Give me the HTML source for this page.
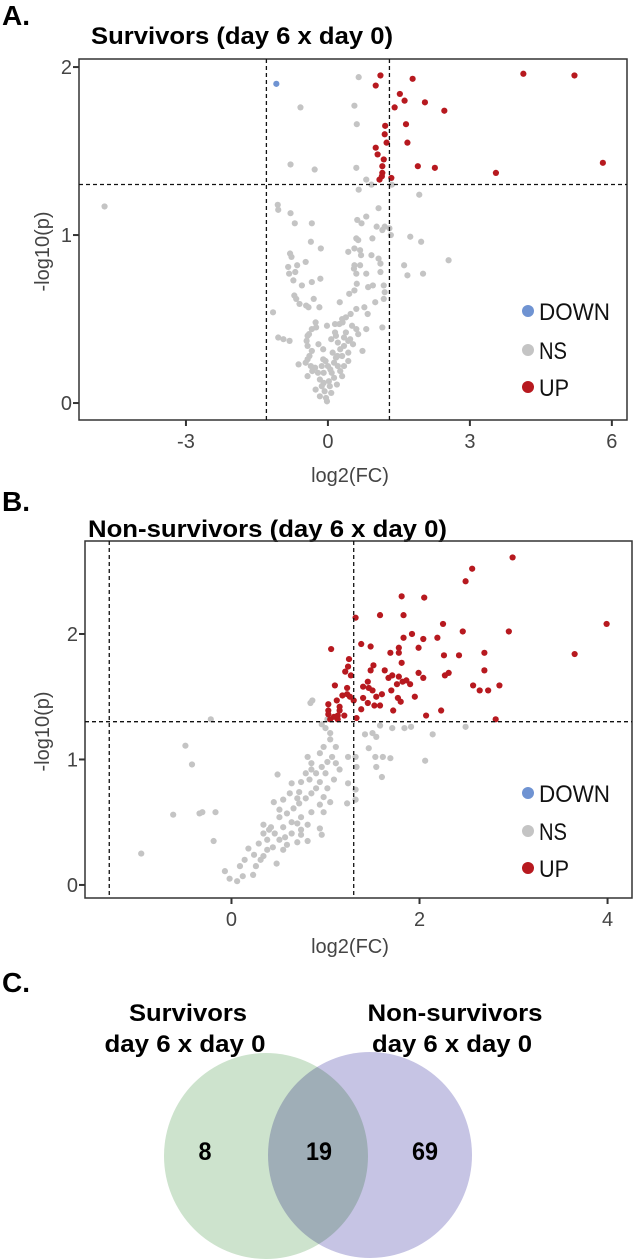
<!DOCTYPE html>
<html><head><meta charset="utf-8">
<style>
html,body{margin:0;padding:0;background:#fff;}
svg{display:block;font-family:"Liberation Sans",Arial,sans-serif;}
</style></head>
<body>
<svg id="fig" width="634" height="1259" viewBox="0 0 634 1259" xmlns="http://www.w3.org/2000/svg">
  <text x="2" y="25" font-size="28" font-weight="bold">A.</text>
  <text x="91" y="44" font-size="24" font-weight="bold" textLength="302" lengthAdjust="spacingAndGlyphs">Survivors (day 6 x day 0)</text>
  <g id="plotA"></g>

  <text x="2" y="511" font-size="28" font-weight="bold">B.</text>
  <text x="88" y="537" font-size="24" font-weight="bold" textLength="359" lengthAdjust="spacingAndGlyphs">Non-survivors (day 6 x day 0)</text>
  <g id="plotB"></g>

  <text x="2" y="992" font-size="28" font-weight="bold">C.</text>
  <g>
    <g style="isolation:isolate">
      <ellipse cx="266" cy="1156" rx="102" ry="103" fill="#cde3cd" style="mix-blend-mode:multiply"/>
      <ellipse cx="370" cy="1155" rx="102" ry="103" fill="#c6c4e4" style="mix-blend-mode:multiply"/>
    </g>
    <text x="188" y="1021" font-size="24" font-weight="bold" text-anchor="middle" textLength="118" lengthAdjust="spacingAndGlyphs">Survivors</text>
    <text x="185" y="1052" font-size="24" font-weight="bold" text-anchor="middle" textLength="161" lengthAdjust="spacingAndGlyphs">day 6 x day 0</text>
    <text x="455" y="1021" font-size="24" font-weight="bold" text-anchor="middle" textLength="175" lengthAdjust="spacingAndGlyphs">Non-survivors</text>
    <text x="452" y="1052" font-size="24" font-weight="bold" text-anchor="middle" textLength="160" lengthAdjust="spacingAndGlyphs">day 6 x day 0</text>
    <text x="205" y="1160" font-size="25" font-weight="bold" text-anchor="middle" textLength="13" lengthAdjust="spacingAndGlyphs">8</text>
    <text x="319" y="1160" font-size="25" font-weight="bold" text-anchor="middle" textLength="26" lengthAdjust="spacingAndGlyphs">19</text>
    <text x="425" y="1160" font-size="25" font-weight="bold" text-anchor="middle" textLength="26" lengthAdjust="spacingAndGlyphs">69</text>
  </g>
</svg>
<script>
// ---- Panel A data (log2FC, -log10 p) ----
const aUpX = [1.11,1.01,1.79,4.13,5.21,1.52,1.62,1.41,2.05,2.46,1.21,1.65,1.01,1.24,1.68,1.18,1.15,1.90,2.26,3.55,5.81,1.15,1.09,1.34,1.14,1.05,1.20];
const aUpY = [1.95,1.89,1.93,1.96,1.95,1.84,1.80,1.76,1.79,1.74,1.65,1.66,1.52,1.55,1.55,1.45,1.41,1.41,1.40,1.37,1.43,1.37,1.33,1.34,1.35,1.48,1.60];
const aDownX = [-1.09];
const aDownY = [1.90];
const aNsX = [0.65,0.56,-0.58,0.61,-0.79,-0.28,0.60,0.81,0.92,1.35,0.65,1.93,-4.72,-1.06,-1.05,-0.79,1.07,0.81,0.62,0.71,-0.70,-0.34,1.03,1.20,1.30,1.15,1.33,1.74,1.97,0.60,0.64,0.94,-0.36,-0.15,0.56,0.68,0.92,0.43,-0.80,-0.77,-0.47,-0.65,-0.84,-0.82,-0.69,1.07,1.11,2.55,1.61,0.56,0.68,0.60,0.81,1.11,1.68,2.01,-0.73,-0.16,-0.34,0.61,0.56,0.85,1.18,1.20,1.18,-0.71,-0.67,-0.60,-0.46,-0.41,-0.18,0.77,0.84,0.60,0.48,0.38,0.31,0.24,0.15,-0.02,1.15,0.81,-1.16,-0.26,-0.34,-0.40,-0.43,-0.45,-0.43,-0.34,-0.39,-0.43,-0.62,-0.47,-0.36,-0.33,-0.43,-1.05,-0.94,-0.81,0.07,0.17,0.21,0.34,0.43,0.53,0.34,0.26,0.43,0.73,0.30,0.17,0.13,0.21,0.26,0.08,0.13,0.02,0.04,-0.09,-0.17,-0.13,-0.07,-0.04,-0.02,-0.17,-0.26,-0.10,-0.13,-0.09,0.00,-0.21,-0.27,0.47,0.38,0.51,0.60,0.64,0.43,0.34,0.30,0.19,0.07,0.10,-0.10,0.20,-0.20,0.05,-0.05,0.15,-0.25,0.30,0.25,-0.30,0.45,0.55,-0.55,0.70,0.95,1.00];
const aNsY = [1.94,1.77,1.76,1.66,1.42,1.39,1.40,1.33,1.30,1.30,1.27,1.24,1.17,1.18,1.15,1.13,1.16,1.11,1.09,1.07,1.07,1.07,1.05,1.05,1.04,1.03,1.00,0.99,0.96,0.98,0.97,0.98,0.96,0.92,0.92,0.91,0.88,0.90,0.89,0.87,0.84,0.82,0.81,0.77,0.78,0.86,0.83,0.85,0.82,0.82,0.82,0.77,0.77,0.78,0.76,0.77,0.73,0.74,0.72,0.71,0.67,0.69,0.70,0.66,0.62,0.64,0.62,0.59,0.58,0.57,0.57,0.57,0.53,0.56,0.53,0.51,0.48,0.47,0.47,0.46,0.45,0.44,0.54,0.48,0.44,0.41,0.40,0.37,0.34,0.31,0.28,0.26,0.23,0.24,0.22,0.19,0.16,0.39,0.38,0.37,0.38,0.40,0.36,0.39,0.37,0.35,0.34,0.32,0.30,0.31,0.28,0.27,0.24,0.22,0.19,0.18,0.15,0.13,0.10,0.12,0.14,0.10,0.07,0.03,0.01,0.04,0.08,0.26,0.22,0.18,0.22,0.18,0.21,0.38,0.42,0.46,0.44,0.41,0.25,0.22,0.16,0.11,0.06,0.30,0.32,0.28,0.35,0.20,0.25,0.42,0.45,0.50,0.60,0.62,0.65,0.80,0.70,0.88,0.70,0.60];
const aXTicks = [-3,0,3,6];
const aYTicks = [0,1,2];

// ---- Panel B data ----
const bUpX = [2.99,2.56,2.49,1.81,2.05,1.32,1.58,1.83,3.99,2.25,2.46,2.95,1.92,1.83,2.04,2.19,1.38,1.48,1.99,1.06,1.78,3.65,2.69,2.42,2.26,1.69,1.78,1.25,1.81,1.24,1.51,2.69,1.21,1.48,1.63,1.71,1.99,2.31,2.27,1.27,1.67,2.04,1.78,1.82,1.86,1.76,1.10,1.23,1.40,1.46,2.57,2.85,2.64,2.73,1.50,1.18,1.26,1.23,1.12,1.40,1.54,1.77,1.45,1.52,1.58,1.80,1.03,1.15,1.15,1.03,1.38,1.72,2.23,1.03,1.13,2.07,1.33,2.81,1.13,1.09,1.30,1.45,1.60,1.90,1.20,1.05,1.70,1.95];
const bUpY = [2.61,2.52,2.42,2.30,2.29,2.13,2.15,2.15,2.08,2.08,2.02,2.02,2.00,1.97,1.96,1.97,1.92,1.90,1.89,1.88,1.89,1.84,1.85,1.83,1.83,1.85,1.85,1.80,1.77,1.74,1.75,1.71,1.70,1.71,1.71,1.67,1.69,1.69,1.67,1.67,1.65,1.65,1.66,1.62,1.63,1.60,1.59,1.57,1.58,1.57,1.59,1.59,1.55,1.55,1.55,1.51,1.50,1.52,1.47,1.49,1.50,1.49,1.45,1.43,1.43,1.46,1.44,1.42,1.39,1.39,1.40,1.39,1.39,1.36,1.35,1.35,1.33,1.32,1.32,1.34,1.47,1.62,1.52,1.60,1.35,1.32,1.55,1.50];
const bDownX = [];
const bDownY = [];
const bNsX = [0.86,0.84,-0.22,1.02,0.96,1.00,1.05,1.58,1.71,1.84,1.91,2.49,2.14,1.42,1.50,1.54,-0.49,-0.42,0.49,2.06,1.46,1.53,1.61,1.69,1.24,1.33,1.54,1.60,1.32,1.24,1.32,1.32,1.23,-0.62,-0.34,-0.31,-0.17,-0.19,-0.96,-0.07,-0.02,0.06,0.12,0.09,0.14,0.23,0.18,0.26,0.31,0.34,0.48,0.24,0.34,0.40,0.46,0.55,0.51,0.57,0.64,0.38,0.44,0.51,0.59,0.66,0.72,0.79,0.85,0.90,0.83,0.90,0.96,0.81,0.85,0.94,0.98,1.05,1.07,1.11,1.15,1.09,1.02,0.98,0.94,0.85,0.74,0.70,0.74,0.81,0.94,0.96,0.81,0.74,0.59,0.55,0.72,0.79,0.74,0.62,0.55,0.45,0.51,0.64,1.02,1.11,1.00,0.85,0.70,0.94,1.05,0.98,0.34,0.29,0.38,0.42,0.64,0.70];
const bNsY = [1.47,1.45,1.32,1.32,1.28,1.25,1.21,1.27,1.25,1.25,1.26,1.26,1.20,1.20,1.21,1.18,1.11,0.96,0.88,0.99,1.09,1.02,1.02,1.01,1.02,0.94,0.94,0.86,1.02,0.81,0.76,0.68,0.65,0.56,0.57,0.58,0.58,0.35,0.25,0.11,0.05,0.03,0.07,0.15,0.20,0.08,0.29,0.15,0.20,0.23,0.17,0.24,0.48,0.44,0.41,0.46,0.36,0.38,0.41,0.36,0.30,0.54,0.57,0.61,0.65,0.69,0.73,0.77,0.84,0.89,0.94,1.02,0.97,1.05,1.10,1.16,1.02,0.97,0.92,0.84,0.77,0.70,0.64,0.58,0.54,0.49,0.44,0.48,0.45,0.40,0.35,0.40,0.32,0.28,0.74,0.89,0.82,0.73,0.68,0.66,0.60,0.81,0.98,1.10,0.89,0.92,0.69,0.82,0.66,0.58,0.41,0.33,0.28,0.46,0.50,0.34];
const bXTicks = [0,2,4];
const bYTicks = [0,1,2];

const NS='http://www.w3.org/2000/svg';
function mk(parent, tag, attrs){
  const e=document.createElementNS(NS,tag);
  for(const k in attrs) e.setAttribute(k,attrs[k]);
  parent.appendChild(e); return e;
}
function volcano(g, cfg){
  const {L,R,T,B,x0,x1,y0,y1} = cfg;
  const sx = v => L + (v - x0) / (x1 - x0) * (R - L);
  const sy = v => B - (v - y0) / (y1 - y0) * (B - T);
  const fr = mk(g,'rect',{x:L,y:T,width:R-L,height:B-T,fill:'none',stroke:'#333','stroke-width':1.5});
  
  
  function pts(xs, ys, color, name){
    for(let i=0;i<xs.length;i++){
      const c = mk(g,'circle',{cx:sx(xs[i]),cy:sy(ys[i]),r:3.1,fill:color});
      
      
    }
  }
  pts(cfg.nsX, cfg.nsY, '#c4c4c4', 'point-ns');
  pts(cfg.downX, cfg.downY, '#6f93d2', 'point-down');
  pts(cfg.upX, cfg.upY, '#b7191f', 'point-up');
  [-cfg.fc, cfg.fc].forEach(v=>{
    const l = mk(g,'line',{x1:sx(v),x2:sx(v),y1:T,y2:B,stroke:'#111','stroke-width':1.3,'stroke-dasharray':'4,3'});
    
    
  });
  const h = mk(g,'line',{x1:L,x2:R,y1:sy(cfg.pth),y2:sy(cfg.pth),stroke:'#111','stroke-width':1.3,'stroke-dasharray':'4,3'});
  
  
  cfg.xt.forEach(v=>{
    const t = mk(g,'line',{x1:sx(v),x2:sx(v),y1:B,y2:B+6,stroke:'#333','stroke-width':2});
    
    
    const tx = mk(g,'text',{x:sx(v),y:B+28,'font-size':20,'text-anchor':'middle',fill:'#444'});
    tx.textContent = v;
    
    
  });
  cfg.yt.forEach(v=>{
    const t = mk(g,'line',{x1:L-6,x2:L,y1:sy(v),y2:sy(v),stroke:'#333','stroke-width':2});
    
    
    const tx = mk(g,'text',{x:L-7,y:sy(v)+7,'font-size':20,'text-anchor':'end',fill:'#444'});
    tx.textContent = v;
    
    
  });
  const xt = mk(g,'text',{x:350,y:cfg.xTitleY,'font-size':20,'text-anchor':'middle',fill:'#444'});
  xt.textContent='log2(FC)';
  
  
  const cy=(T+B)/2+12;
  const yt = mk(g,'text',{x:0,y:0,'font-size':20,'text-anchor':'middle',fill:'#444',transform:`translate(49,${cy}) rotate(-90)`});
  yt.textContent='-log10(p)';
  
  
  const labels=['DOWN','NS','UP'], cols=['#6f93d2','#c4c4c4','#b7191f'], lens=[71,28,30];
  labels.forEach((lab,i)=>{
    const yy = cfg.legY[i];
    const c = mk(g,'circle',{cx:528,cy:yy,r:6,fill:cols[i]});
    
    
    const t = mk(g,'text',{x:539,y:yy+9,'font-size':24,fill:'#111',textLength:lens[i],lengthAdjust:'spacingAndGlyphs'});
    t.textContent=lab;
    
    
  });
}
volcano(document.getElementById('plotA'),{
  L:79,R:627,T:59,B:420,x0:-5.26,x1:6.32,y0:-0.101,y1:2.048,
  nsX:aNsX,nsY:aNsY,upX:aUpX,upY:aUpY,downX:aDownX,downY:aDownY,
  fc:1.3,pth:1.301,xt:aXTicks,yt:aYTicks,xTitleY:482,legY:[311,350,387]
});
volcano(document.getElementById('plotB'),{
  L:85,R:632,T:541,B:898,x0:-1.558,x1:4.26,y0:-0.104,y1:2.741,
  nsX:bNsX,nsY:bNsY,upX:bUpX,upY:bUpY,downX:bDownX,downY:bDownY,
  fc:1.3,pth:1.301,xt:bXTicks,yt:bYTicks,xTitleY:953,legY:[793,831,868]
});
</script>
</body></html>
